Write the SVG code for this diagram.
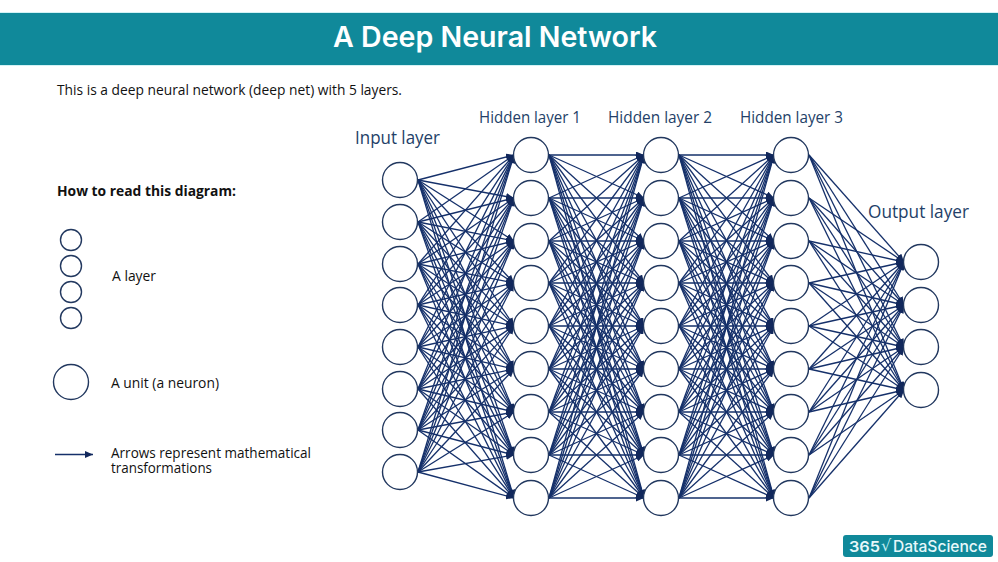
<svg xmlns="http://www.w3.org/2000/svg" width="998" height="562" viewBox="0 0 998 562">
<style>
.n{fill:#fff;stroke:#22385f;stroke-width:1.4}
.c path,.k{fill:none;stroke:#15306a;stroke-width:1.3;marker-end:url(#a)}
.t{font-family:"Open Sans","Noto Sans",sans-serif;fill:#111;font-size:14px}
.l{font-family:"Open Sans","Noto Sans",sans-serif;fill:#243f68}
</style>
<defs><marker id="a" markerUnits="userSpaceOnUse" viewBox="0 0 8 7" refX="8" refY="3.5" markerWidth="8" markerHeight="7" orient="auto"><path d="M0 0 8 3.500 0 7z" fill="#12285c"/></marker></defs>
<rect width="998" height="562" fill="#fff"/>
<g id="header"><rect y="12" width="998" height="54" fill="#d3f2f5"/><rect y="13" width="998" height="52" fill="#10899a"/>
<text x="333" y="47" textLength="324" lengthAdjust="spacingAndGlyphs" font-family="Inter,Lato,sans-serif" font-weight="600" font-size="28" fill="#fff">A Deep Neural Network</text></g>
<text class="t" x="57" y="95" textLength="345" lengthAdjust="spacingAndGlyphs">This is a deep neural network (deep net) with 5 layers.</text>
<text class="t" x="57" y="196" font-weight="700" textLength="179" lengthAdjust="spacingAndGlyphs">How to read this diagram:</text>
<g id="legend-layer"><circle class="n" cx="71" cy="240" r="10.500"/><circle class="n" cx="71" cy="266" r="10.500"/><circle class="n" cx="71" cy="292" r="10.500"/><circle class="n" cx="71" cy="318" r="10.500"/><text class="t" x="112" y="281" textLength="44" lengthAdjust="spacingAndGlyphs">A layer</text></g>
<g id="legend-unit"><circle class="n" cx="71" cy="382" r="17.500"/><text class="t" x="111" y="388" textLength="108" lengthAdjust="spacingAndGlyphs">A unit (a neuron)</text></g>
<g id="legend-arrow"><path class="k" d="M55 454.500 93 454.500"/><text class="t"><tspan x="111" y="458" textLength="200" lengthAdjust="spacingAndGlyphs">Arrows represent mathematical</tspan><tspan x="111" y="473" textLength="101" lengthAdjust="spacingAndGlyphs">transformations</tspan></text></g>
<g id="layer-labels"><text class="l" x="355" y="144" font-size="18" textLength="85" lengthAdjust="spacingAndGlyphs">Input layer</text><text class="l" x="479" y="123" font-size="16" textLength="102" lengthAdjust="spacingAndGlyphs">Hidden layer 1</text><text class="l" x="608" y="123" font-size="16" textLength="104" lengthAdjust="spacingAndGlyphs">Hidden layer 2</text><text class="l" x="740" y="123" font-size="16" textLength="103" lengthAdjust="spacingAndGlyphs">Hidden layer 3</text><text class="l" x="868" y="218" font-size="17.500" textLength="101" lengthAdjust="spacingAndGlyphs">Output layer</text></g>
<g id="connectors" class="c">
<path d="M418 180 514 155"/><path d="M418 180 514 198"/><path d="M418 180 514 241"/><path d="M418 180 514 283"/><path d="M418 180 514 326"/><path d="M418 180 514 369"/><path d="M418 180 514 412"/><path d="M418 180 514 455"/><path d="M418 180 514 498"/>
<path d="M418 222 514 155"/><path d="M418 222 514 198"/><path d="M418 222 514 241"/><path d="M418 222 514 283"/><path d="M418 222 514 326"/><path d="M418 222 514 369"/><path d="M418 222 514 412"/><path d="M418 222 514 455"/><path d="M418 222 514 498"/>
<path d="M418 264 514 155"/><path d="M418 264 514 198"/><path d="M418 264 514 241"/><path d="M418 264 514 283"/><path d="M418 264 514 326"/><path d="M418 264 514 369"/><path d="M418 264 514 412"/><path d="M418 264 514 455"/><path d="M418 264 514 498"/>
<path d="M418 305 514 155"/><path d="M418 305 514 198"/><path d="M418 305 514 241"/><path d="M418 305 514 283"/><path d="M418 305 514 326"/><path d="M418 305 514 369"/><path d="M418 305 514 412"/><path d="M418 305 514 455"/><path d="M418 305 514 498"/>
<path d="M418 347 514 155"/><path d="M418 347 514 198"/><path d="M418 347 514 241"/><path d="M418 347 514 283"/><path d="M418 347 514 326"/><path d="M418 347 514 369"/><path d="M418 347 514 412"/><path d="M418 347 514 455"/><path d="M418 347 514 498"/>
<path d="M418 389 514 155"/><path d="M418 389 514 198"/><path d="M418 389 514 241"/><path d="M418 389 514 283"/><path d="M418 389 514 326"/><path d="M418 389 514 369"/><path d="M418 389 514 412"/><path d="M418 389 514 455"/><path d="M418 389 514 498"/>
<path d="M418 430 514 155"/><path d="M418 430 514 198"/><path d="M418 430 514 241"/><path d="M418 430 514 283"/><path d="M418 430 514 326"/><path d="M418 430 514 369"/><path d="M418 430 514 412"/><path d="M418 430 514 455"/><path d="M418 430 514 498"/>
<path d="M418 472 514 155"/><path d="M418 472 514 198"/><path d="M418 472 514 241"/><path d="M418 472 514 283"/><path d="M418 472 514 326"/><path d="M418 472 514 369"/><path d="M418 472 514 412"/><path d="M418 472 514 455"/><path d="M418 472 514 498"/>

<path d="M549 155 644 155"/><path d="M549 155 644 198"/><path d="M549 155 644 241"/><path d="M549 155 644 283"/><path d="M549 155 644 326"/><path d="M549 155 644 369"/><path d="M549 155 644 412"/><path d="M549 155 644 455"/><path d="M549 155 644 498"/>
<path d="M549 198 644 155"/><path d="M549 198 644 198"/><path d="M549 198 644 241"/><path d="M549 198 644 283"/><path d="M549 198 644 326"/><path d="M549 198 644 369"/><path d="M549 198 644 412"/><path d="M549 198 644 455"/><path d="M549 198 644 498"/>
<path d="M549 241 644 155"/><path d="M549 241 644 198"/><path d="M549 241 644 241"/><path d="M549 241 644 283"/><path d="M549 241 644 326"/><path d="M549 241 644 369"/><path d="M549 241 644 412"/><path d="M549 241 644 455"/><path d="M549 241 644 498"/>
<path d="M549 283 644 155"/><path d="M549 283 644 198"/><path d="M549 283 644 241"/><path d="M549 283 644 283"/><path d="M549 283 644 326"/><path d="M549 283 644 369"/><path d="M549 283 644 412"/><path d="M549 283 644 455"/><path d="M549 283 644 498"/>
<path d="M549 326 644 155"/><path d="M549 326 644 198"/><path d="M549 326 644 241"/><path d="M549 326 644 283"/><path d="M549 326 644 326"/><path d="M549 326 644 369"/><path d="M549 326 644 412"/><path d="M549 326 644 455"/><path d="M549 326 644 498"/>
<path d="M549 369 644 155"/><path d="M549 369 644 198"/><path d="M549 369 644 241"/><path d="M549 369 644 283"/><path d="M549 369 644 326"/><path d="M549 369 644 369"/><path d="M549 369 644 412"/><path d="M549 369 644 455"/><path d="M549 369 644 498"/>
<path d="M549 412 644 155"/><path d="M549 412 644 198"/><path d="M549 412 644 241"/><path d="M549 412 644 283"/><path d="M549 412 644 326"/><path d="M549 412 644 369"/><path d="M549 412 644 412"/><path d="M549 412 644 455"/><path d="M549 412 644 498"/>
<path d="M549 455 644 155"/><path d="M549 455 644 198"/><path d="M549 455 644 241"/><path d="M549 455 644 283"/><path d="M549 455 644 326"/><path d="M549 455 644 369"/><path d="M549 455 644 412"/><path d="M549 455 644 455"/><path d="M549 455 644 498"/>
<path d="M549 498 644 155"/><path d="M549 498 644 198"/><path d="M549 498 644 241"/><path d="M549 498 644 283"/><path d="M549 498 644 326"/><path d="M549 498 644 369"/><path d="M549 498 644 412"/><path d="M549 498 644 455"/><path d="M549 498 644 498"/>

<path d="M679 155 774 155"/><path d="M679 155 774 198"/><path d="M679 155 774 241"/><path d="M679 155 774 283"/><path d="M679 155 774 326"/><path d="M679 155 774 369"/><path d="M679 155 774 412"/><path d="M679 155 774 455"/><path d="M679 155 774 498"/>
<path d="M679 198 774 155"/><path d="M679 198 774 198"/><path d="M679 198 774 241"/><path d="M679 198 774 283"/><path d="M679 198 774 326"/><path d="M679 198 774 369"/><path d="M679 198 774 412"/><path d="M679 198 774 455"/><path d="M679 198 774 498"/>
<path d="M679 241 774 155"/><path d="M679 241 774 198"/><path d="M679 241 774 241"/><path d="M679 241 774 283"/><path d="M679 241 774 326"/><path d="M679 241 774 369"/><path d="M679 241 774 412"/><path d="M679 241 774 455"/><path d="M679 241 774 498"/>
<path d="M679 283 774 155"/><path d="M679 283 774 198"/><path d="M679 283 774 241"/><path d="M679 283 774 283"/><path d="M679 283 774 326"/><path d="M679 283 774 369"/><path d="M679 283 774 412"/><path d="M679 283 774 455"/><path d="M679 283 774 498"/>
<path d="M679 326 774 155"/><path d="M679 326 774 198"/><path d="M679 326 774 241"/><path d="M679 326 774 283"/><path d="M679 326 774 326"/><path d="M679 326 774 369"/><path d="M679 326 774 412"/><path d="M679 326 774 455"/><path d="M679 326 774 498"/>
<path d="M679 369 774 155"/><path d="M679 369 774 198"/><path d="M679 369 774 241"/><path d="M679 369 774 283"/><path d="M679 369 774 326"/><path d="M679 369 774 369"/><path d="M679 369 774 412"/><path d="M679 369 774 455"/><path d="M679 369 774 498"/>
<path d="M679 412 774 155"/><path d="M679 412 774 198"/><path d="M679 412 774 241"/><path d="M679 412 774 283"/><path d="M679 412 774 326"/><path d="M679 412 774 369"/><path d="M679 412 774 412"/><path d="M679 412 774 455"/><path d="M679 412 774 498"/>
<path d="M679 455 774 155"/><path d="M679 455 774 198"/><path d="M679 455 774 241"/><path d="M679 455 774 283"/><path d="M679 455 774 326"/><path d="M679 455 774 369"/><path d="M679 455 774 412"/><path d="M679 455 774 455"/><path d="M679 455 774 498"/>
<path d="M679 498 774 155"/><path d="M679 498 774 198"/><path d="M679 498 774 241"/><path d="M679 498 774 283"/><path d="M679 498 774 326"/><path d="M679 498 774 369"/><path d="M679 498 774 412"/><path d="M679 498 774 455"/><path d="M679 498 774 498"/>

<path d="M809 155 904 262"/><path d="M809 155 904 305"/><path d="M809 155 904 347"/><path d="M809 155 904 390"/>
<path d="M809 198 904 262"/><path d="M809 198 904 305"/><path d="M809 198 904 347"/><path d="M809 198 904 390"/>
<path d="M809 241 904 262"/><path d="M809 241 904 305"/><path d="M809 241 904 347"/><path d="M809 241 904 390"/>
<path d="M809 283 904 262"/><path d="M809 283 904 305"/><path d="M809 283 904 347"/><path d="M809 283 904 390"/>
<path d="M809 326 904 262"/><path d="M809 326 904 305"/><path d="M809 326 904 347"/><path d="M809 326 904 390"/>
<path d="M809 369 904 262"/><path d="M809 369 904 305"/><path d="M809 369 904 347"/><path d="M809 369 904 390"/>
<path d="M809 412 904 262"/><path d="M809 412 904 305"/><path d="M809 412 904 347"/><path d="M809 412 904 390"/>
<path d="M809 455 904 262"/><path d="M809 455 904 305"/><path d="M809 455 904 347"/><path d="M809 455 904 390"/>
<path d="M809 498 904 262"/><path d="M809 498 904 305"/><path d="M809 498 904 347"/><path d="M809 498 904 390"/>
</g>
<g id="input-layer"><circle id="i1" class="n" cx="400" cy="180" r="17.500"/><circle id="i2" class="n" cx="400" cy="222" r="17.500"/><circle id="i3" class="n" cx="400" cy="264" r="17.500"/><circle id="i4" class="n" cx="400" cy="305" r="17.500"/><circle id="i5" class="n" cx="400" cy="347" r="17.500"/><circle id="i6" class="n" cx="400" cy="389" r="17.500"/><circle id="i7" class="n" cx="400" cy="430" r="17.500"/><circle id="i8" class="n" cx="400" cy="472" r="17.500"/></g>
<g id="hidden-1"><circle id="a1" class="n" cx="531" cy="155" r="17.500"/><circle id="a2" class="n" cx="531" cy="198" r="17.500"/><circle id="a3" class="n" cx="531" cy="241" r="17.500"/><circle id="a4" class="n" cx="531" cy="283" r="17.500"/><circle id="a5" class="n" cx="531" cy="326" r="17.500"/><circle id="a6" class="n" cx="531" cy="369" r="17.500"/><circle id="a7" class="n" cx="531" cy="412" r="17.500"/><circle id="a8" class="n" cx="531" cy="455" r="17.500"/><circle id="a9" class="n" cx="531" cy="498" r="17.500"/></g>
<g id="hidden-2"><circle id="b1" class="n" cx="661" cy="155" r="17.500"/><circle id="b2" class="n" cx="661" cy="198" r="17.500"/><circle id="b3" class="n" cx="661" cy="241" r="17.500"/><circle id="b4" class="n" cx="661" cy="283" r="17.500"/><circle id="b5" class="n" cx="661" cy="326" r="17.500"/><circle id="b6" class="n" cx="661" cy="369" r="17.500"/><circle id="b7" class="n" cx="661" cy="412" r="17.500"/><circle id="b8" class="n" cx="661" cy="455" r="17.500"/><circle id="b9" class="n" cx="661" cy="498" r="17.500"/></g>
<g id="hidden-3"><circle id="c1" class="n" cx="791" cy="155" r="17.500"/><circle id="c2" class="n" cx="791" cy="198" r="17.500"/><circle id="c3" class="n" cx="791" cy="241" r="17.500"/><circle id="c4" class="n" cx="791" cy="283" r="17.500"/><circle id="c5" class="n" cx="791" cy="326" r="17.500"/><circle id="c6" class="n" cx="791" cy="369" r="17.500"/><circle id="c7" class="n" cx="791" cy="412" r="17.500"/><circle id="c8" class="n" cx="791" cy="455" r="17.500"/><circle id="c9" class="n" cx="791" cy="498" r="17.500"/></g>
<g id="output-layer"><circle id="o1" class="n" cx="921" cy="262" r="17.500"/><circle id="o2" class="n" cx="921" cy="305" r="17.500"/><circle id="o3" class="n" cx="921" cy="347" r="17.500"/><circle id="o4" class="n" cx="921" cy="390" r="17.500"/></g>
<g id="logo"><rect x="843" y="535" width="150" height="22" rx="3" fill="#10899a"/>
<text x="849" y="552" font-family="Inter,Lato,sans-serif" font-weight="600" font-size="15" textLength="31" lengthAdjust="spacingAndGlyphs" fill="#e8f8fa">365</text>
<text x="881" y="551" font-family="'DejaVu Sans',sans-serif" font-size="16" fill="#bfeef2">√</text>
<text x="893" y="552" font-family="Inter,Lato,sans-serif" font-weight="500" font-size="15.500" textLength="94" lengthAdjust="spacingAndGlyphs" fill="#e8f8fa">DataScience</text></g>
</svg>
